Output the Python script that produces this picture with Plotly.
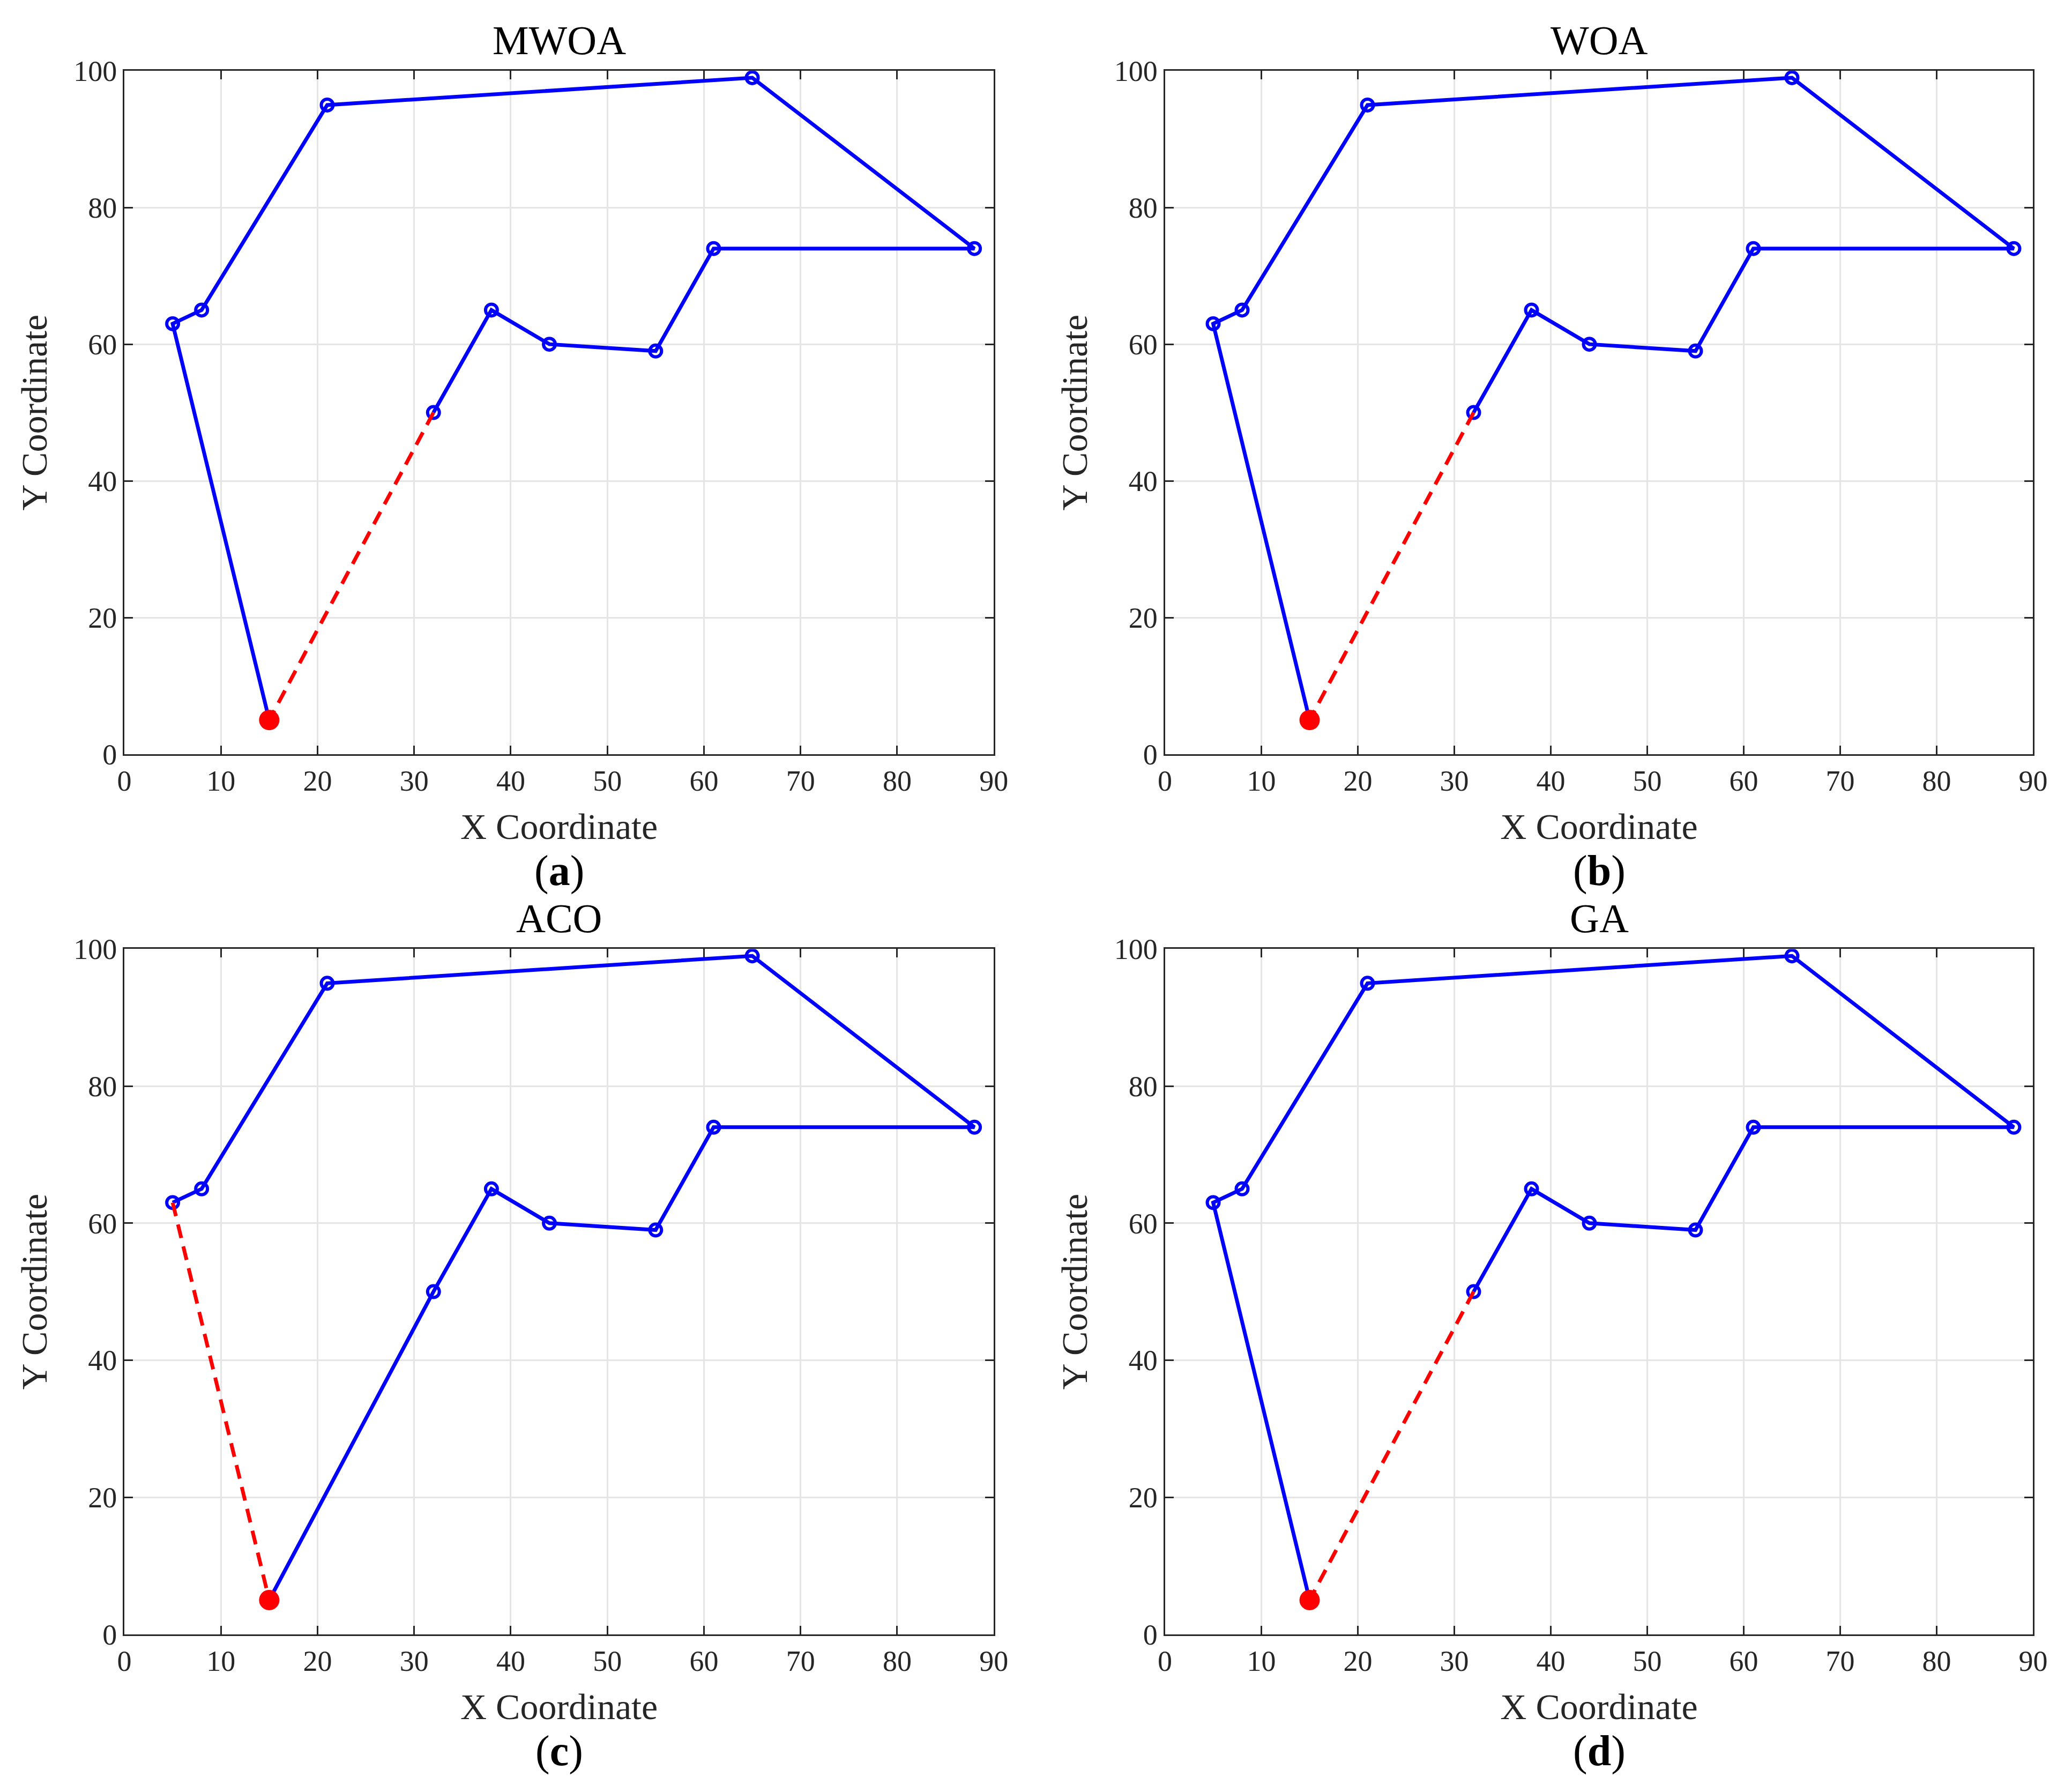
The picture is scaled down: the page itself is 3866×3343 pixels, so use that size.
import plotly.graph_objects as go

# city coordinates, city 0 is the depot
city_x = [15, 5, 8, 21, 65, 88, 61, 55, 44, 38, 32]
city_y = [5, 63, 65, 95, 99, 74, 74, 59, 60, 65, 50]

# visiting order for each algorithm (return leg to depot is dashed)
names = ['MWOA', 'WOA', 'ACO', 'GA']
labels = ['a', 'b', 'c', 'd']
tour_mwoa = [0, 1, 2, 3, 4, 5, 6, 7, 8, 9, 10]
tour_woa = [0, 1, 2, 3, 4, 5, 6, 7, 8, 9, 10]
tour_aco = [0, 10, 9, 8, 7, 6, 5, 4, 3, 2, 1]
tour_ga = [0, 1, 2, 3, 4, 5, 6, 7, 8, 9, 10]
tours = [tour_mwoa, tour_woa, tour_aco, tour_ga]

x_ticks = [0, 10, 20, 30, 40, 50, 60, 70, 80, 90]
y_ticks = [0, 20, 40, 60, 80, 100]

W, H = 3866, 3343
FONT = 'Liberation Serif'
AX = '#262626'

x_domains = [[0.0549, 0.479], [0.5625, 0.986], [0.0549, 0.479], [0.5625, 0.986]]
y_domains = [[0.5827, 0.971], [0.5827, 0.971], [0.0826, 0.472], [0.0826, 0.472]]

fig = go.Figure()
annotations = []

for i in range(4):
    n = str(i + 1) if i > 0 else ''
    xa = 'x' + n
    ya = 'y' + n
    tour = tours[i]
    tx = [city_x[k] for k in tour]
    ty = [city_y[k] for k in tour]

    # route
    fig.add_trace(go.Scatter(x=tx, y=ty, mode='lines+markers', xaxis=xa, yaxis=ya,
                             line=dict(color='#0000ff', width=7),
                             marker=dict(symbol='circle-open', size=22, color='#0000ff',
                                         line=dict(width=6, color='#0000ff')),
                             showlegend=False))
    # return leg
    fig.add_trace(go.Scatter(x=[tx[-1], tx[0]], y=[ty[-1], ty[0]], mode='lines',
                             xaxis=xa, yaxis=ya,
                             line=dict(color='#ff0000', width=7, dash='26px,16px'),
                             showlegend=False))
    # depot
    fig.add_trace(go.Scatter(x=[city_x[0]], y=[city_y[0]], mode='markers',
                             xaxis=xa, yaxis=ya,
                             marker=dict(size=38, color='#ff0000'),
                             showlegend=False))

    axis_common = dict(showline=True, linecolor=AX, linewidth=3, mirror='ticks',
                       ticks='inside', ticklen=16, tickwidth=3, tickcolor=AX,
                       showgrid=True, gridcolor='#e5e5e5', gridwidth=3, zeroline=False,
                       tickfont=dict(family=FONT, size=54, color=AX))
    fig.layout['xaxis' + n] = dict(axis_common, domain=x_domains[i], anchor=ya,
                                   range=[0, 90], tickvals=x_ticks,
                                   title=dict(text='X Coordinate', standoff=32,
                                              font=dict(family=FONT, size=68, color=AX)))
    fig.layout['yaxis' + n] = dict(axis_common, domain=y_domains[i], anchor=xa,
                                   range=[0, 100], tickvals=y_ticks,
                                   title=dict(text='Y Coordinate', standoff=28,
                                              font=dict(family=FONT, size=68, color=AX)))

    xc = (x_domains[i][0] + x_domains[i][1]) / 2
    annotations.append(dict(text=names[i], x=xc, y=y_domains[i][1] + 0.004,
                            xref='paper', yref='paper', xanchor='center', yanchor='bottom',
                            showarrow=False, font=dict(family=FONT, size=76, color='black')))
    annotations.append(dict(text='(<b>' + labels[i] + '</b>)', x=xc,
                            y=y_domains[i][0] - 0.0664,
                            xref='paper', yref='paper', xanchor='center', yanchor='middle',
                            showarrow=False, font=dict(family=FONT, size=80, color='black')))

fig.update_layout(width=W, height=H, margin=dict(l=0, r=0, t=0, b=0),
                  plot_bgcolor='white', paper_bgcolor='white',
                  annotations=annotations)

fig.write_html("out.html")
